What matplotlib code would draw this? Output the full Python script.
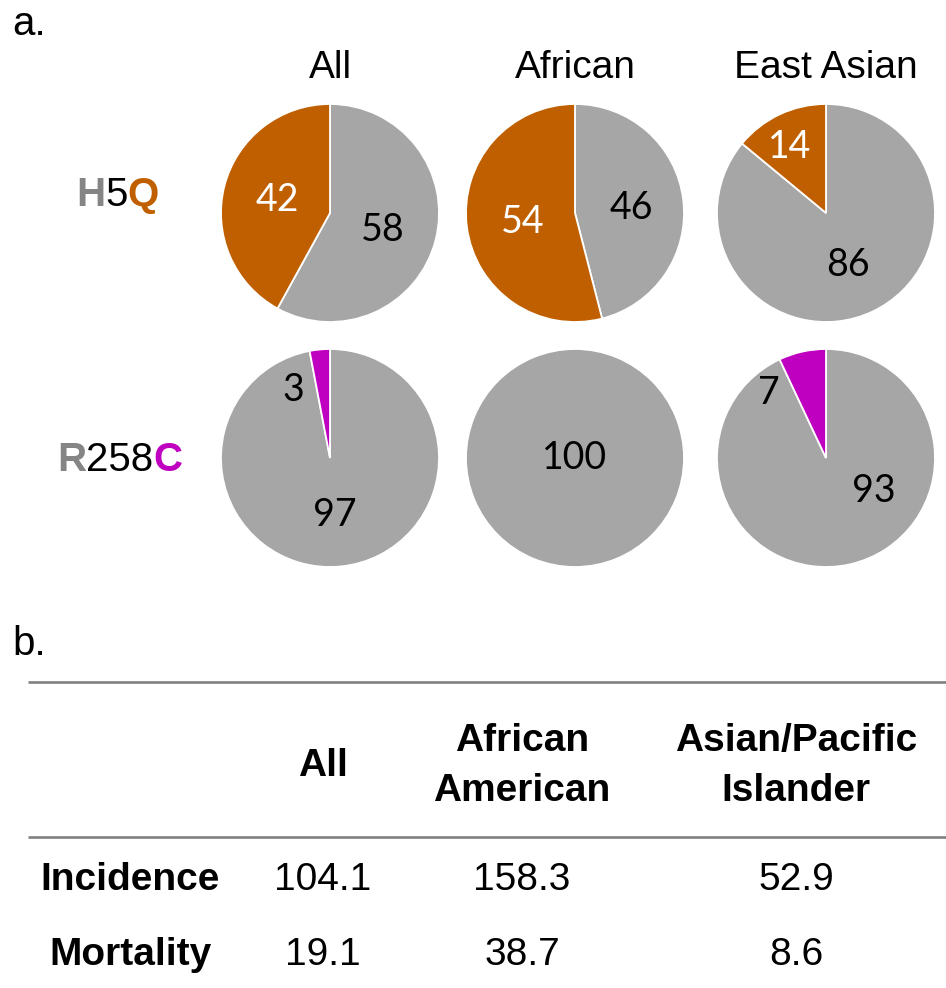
import matplotlib
matplotlib.use("Agg")
import matplotlib.pyplot as plt

# ---- data ----
groups = ["All", "African", "East Asian"]
h5q_ref = [58, 46, 86]
h5q_alt = [42, 54, 14]
r258c_ref = [97, 100, 93]
r258c_alt = [3, 0, 7]

table_cols = ["All", "African\nAmerican", "Asian/Pacific\nIslander"]
table_rows = ["Incidence", "Mortality"]
incidence = [104.1, 158.3, 52.9]
mortality = [19.1, 38.7, 8.6]

GREY, ORANGE, MAGENTA = "#A6A6A6", "#C05F00", "#C000C0"
LBL_GREY, LINE_GREY = "#858585", "#808080"
SANS = "Liberation Sans"
NUM = "Lato"

W, H = 946, 988
fig = plt.figure(figsize=(W / 100, H / 100), dpi=100)
ax = fig.add_axes([0, 0, 1, 1])

# layout in pixels (y measured from top)
pie_x = [330, 575, 826]
pie_y = [213, 458]
R = 109
# label offsets (px) for [ref, alt] wedges of each pie
h5q_off = [[(53, -17), (-53, 13)], [(56, 5), (-52, -9)], [(22, -52), (-36, 66)]]
r258c_off = [[(5, -57), (-37, 68)], [(0, 0), (0, 0)], [(48, -33), (-57, 65)]]

rows = [(h5q_ref, h5q_alt, ORANGE, "white", h5q_off),
        (r258c_ref, r258c_alt, MAGENTA, "black", r258c_off)]
for ri, (ref, alt, acol, alt_txt, offs) in enumerate(rows):
    cy = H - pie_y[ri]
    for ci, cx in enumerate(pie_x):
        vals = [(ref[ci], GREY, "black", offs[ci][0]), (alt[ci], acol, alt_txt, offs[ci][1])]
        vals = [v for v in vals if v[0] > 0]
        ax.pie([v[0] for v in vals], colors=[v[1] for v in vals], startangle=90,
               counterclock=False, radius=R, center=(cx, cy), frame=True,
               wedgeprops=dict(edgecolor="white", linewidth=1.3))
        for v, _, tc, (dx, dy) in vals:
            ax.text(cx + dx, cy + dy, f"{v}", ha="center", va="center",
                    fontsize=27, color=tc, family=NUM)

for g, cx in zip(groups, pie_x):
    ax.text(cx, H - 78, g, ha="center", va="baseline", fontsize=28, family=SANS)

def multicolor(x, y, parts):
    t = None
    for s, c, w in parts:
        if t is None:
            t = ax.text(x, y, s, color=c, weight=w, fontsize=29, family=SANS,
                        ha="left", va="baseline")
        else:
            t = ax.annotate(s, xy=(1, 0), xycoords=t, color=c, weight=w, fontsize=29,
                            family=SANS, ha="left", va="bottom")

multicolor(76, H - 206, [("H", LBL_GREY, "bold"), ("5", "black", "normal"), ("Q", ORANGE, "bold")])
multicolor(57, H - 471, [("R", LBL_GREY, "bold"), ("258", "black", "normal"), ("C", MAGENTA, "bold")])

ax.text(12, H - 35, "a.", fontsize=29, family=SANS, ha="left", va="baseline")
ax.text(12, H - 655, "b.", fontsize=29, family=SANS, ha="left", va="baseline")

# ---- table ----
col_x = [323, 522, 796]
for yl in [682, 837]:
    ax.plot([28, W], [H - yl, H - yl], color=LINE_GREY, lw=1.9, solid_capstyle="butt")
for lbl, cx in zip(table_cols, col_x):
    lines = lbl.split("\n")
    n = len(lines)
    for i, s in enumerate(lines):
        by = 776 + (i - (n - 1) / 2) * 50
        ax.text(cx, H - by, s, ha="center", va="baseline", fontsize=28,
                weight="bold", family=SANS)
for rlab, vals, by in zip(table_rows, [incidence, mortality], [890, 965]):
    ax.text(130, H - by, rlab, ha="center", va="baseline", fontsize=28,
            weight="bold", family=SANS)
    for v, cx in zip(vals, col_x):
        ax.text(cx, H - by, f"{v:.1f}", ha="center", va="baseline", fontsize=28,
                family=SANS)

ax.set_xlim(0, W)
ax.set_ylim(0, H)
ax.set_aspect("auto")
ax.axis("off")
fig.savefig("out.png", dpi=100)
